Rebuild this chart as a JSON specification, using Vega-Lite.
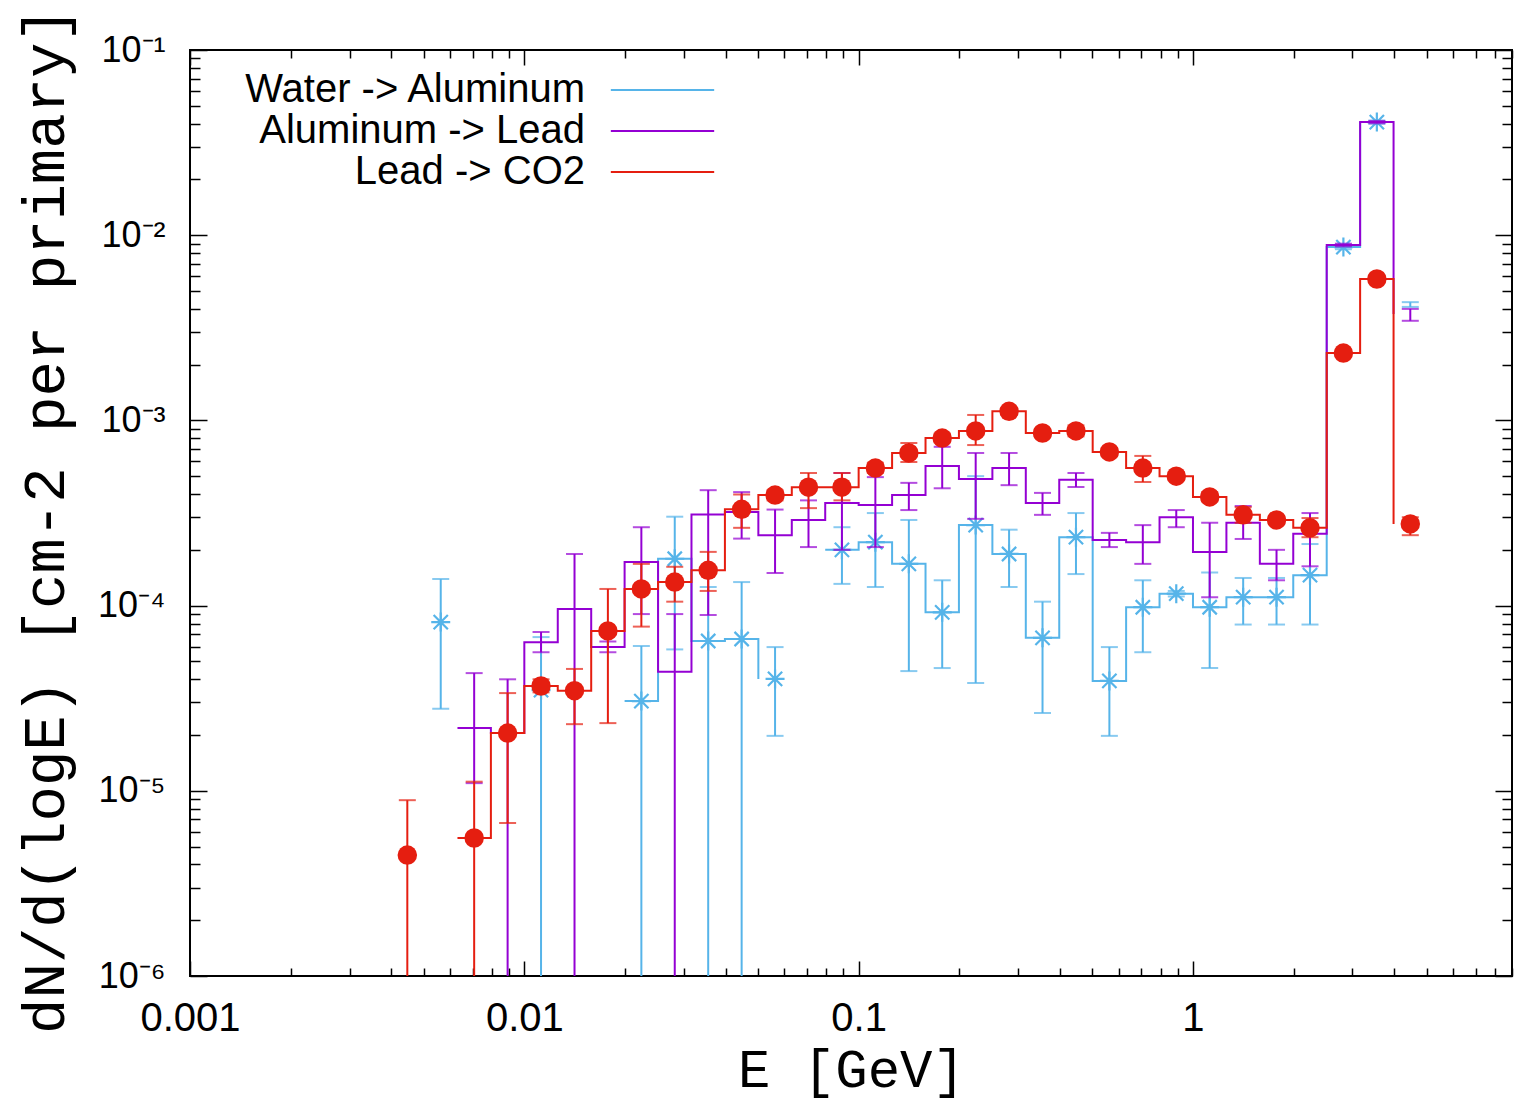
{
  "$schema": "https://vega.github.io/schema/vega-lite/v6.json",
  "width": 1322,
  "height": 926,
  "autosize": {"type": "none"},
  "padding": {"left": 190, "top": 50, "right": 12, "bottom": 126},
  "background": "white",
  "data": {"values": [
    {"s": "Water -> Aluminum", "E": 0.005623, "Elo": 0.005012, "v": 8.15e-5, "lo": 2.77e-5, "hi": 1.39e-4},
    {"s": "Water -> Aluminum", "E": 0.007079, "Elo": 0.00631, "v": null, "lo": null, "hi": null},
    {"s": "Water -> Aluminum", "E": 0.008913, "Elo": 0.007943, "v": null, "lo": null, "hi": null},
    {"s": "Water -> Aluminum", "E": 0.01122, "Elo": 0.01, "v": 3.5e-5, "lo": 1e-7, "hi": 6.76e-5},
    {"s": "Water -> Aluminum", "E": 0.01413, "Elo": 0.01259, "v": null, "lo": null, "hi": null},
    {"s": "Water -> Aluminum", "E": 0.01778, "Elo": 0.01585, "v": null, "lo": null, "hi": null},
    {"s": "Water -> Aluminum", "E": 0.02239, "Elo": 0.01995, "v": 3.05e-5, "lo": 1e-7, "hi": 6.05e-5},
    {"s": "Water -> Aluminum", "E": 0.02818, "Elo": 0.02512, "v": 1.79e-4, "lo": 5.8e-5, "hi": 3.02e-4},
    {"s": "Water -> Aluminum", "E": 0.03548, "Elo": 0.03162, "v": 6.44e-5, "lo": 1e-7, "hi": 1.26e-4},
    {"s": "Water -> Aluminum", "E": 0.04467, "Elo": 0.03981, "v": 6.6e-5, "lo": 1e-7, "hi": 1.34e-4},
    {"s": "Water -> Aluminum", "E": 0.05623, "Elo": 0.05012, "v": 4.02e-5, "lo": 1.98e-5, "hi": 5.97e-5},
    {"s": "Water -> Aluminum", "E": 0.07079, "Elo": 0.0631, "v": null, "lo": null, "hi": null},
    {"s": "Water -> Aluminum", "E": 0.08913, "Elo": 0.07943, "v": 2.0e-4, "lo": 1.31e-4, "hi": 2.65e-4},
    {"s": "Water -> Aluminum", "E": 0.1122, "Elo": 0.1, "v": 2.2e-4, "lo": 1.26e-4, "hi": 3.16e-4},
    {"s": "Water -> Aluminum", "E": 0.1413, "Elo": 0.1259, "v": 1.68e-4, "lo": 4.43e-5, "hi": 2.9e-4},
    {"s": "Water -> Aluminum", "E": 0.1778, "Elo": 0.1585, "v": 9.2e-5, "lo": 4.6e-5, "hi": 1.37e-4},
    {"s": "Water -> Aluminum", "E": 0.2239, "Elo": 0.1995, "v": 2.72e-4, "lo": 3.82e-5, "hi": 5.0e-4},
    {"s": "Water -> Aluminum", "E": 0.2818, "Elo": 0.2512, "v": 1.9e-4, "lo": 1.26e-4, "hi": 2.57e-4},
    {"s": "Water -> Aluminum", "E": 0.3548, "Elo": 0.3162, "v": 6.7e-5, "lo": 2.63e-5, "hi": 1.05e-4},
    {"s": "Water -> Aluminum", "E": 0.4467, "Elo": 0.3981, "v": 2.34e-4, "lo": 1.48e-4, "hi": 3.16e-4},
    {"s": "Water -> Aluminum", "E": 0.5623, "Elo": 0.5012, "v": 3.92e-5, "lo": 1.98e-5, "hi": 5.97e-5},
    {"s": "Water -> Aluminum", "E": 0.7079, "Elo": 0.631, "v": 9.8e-5, "lo": 5.6e-5, "hi": 1.37e-4},
    {"s": "Water -> Aluminum", "E": 0.8913, "Elo": 0.7943, "v": 1.16e-4, "lo": 1.12e-4, "hi": 1.2e-4},
    {"s": "Water -> Aluminum", "E": 1.122, "Elo": 1.0, "v": 9.8e-5, "lo": 4.6e-5, "hi": 1.51e-4},
    {"s": "Water -> Aluminum", "E": 1.413, "Elo": 1.259, "v": 1.11e-4, "lo": 7.9e-5, "hi": 1.41e-4},
    {"s": "Water -> Aluminum", "E": 1.778, "Elo": 1.585, "v": 1.11e-4, "lo": 7.9e-5, "hi": 1.41e-4},
    {"s": "Water -> Aluminum", "E": 2.239, "Elo": 1.995, "v": 1.46e-4, "lo": 7.9e-5, "hi": 2.15e-4},
    {"s": "Water -> Aluminum", "E": 2.818, "Elo": 2.512, "v": 8.63e-3, "lo": 8.4e-3, "hi": 8.9e-3},
    {"s": "Water -> Aluminum", "E": 3.548, "Elo": 3.162, "v": 4.08e-2, "lo": 4.0e-2, "hi": 4.16e-2},
    {"s": "Water -> Aluminum", "E": 4.467, "Elo": 3.981, "v": null, "lo": 4.1e-3, "hi": 4.35e-3},

    {"s": "Aluminum -> Lead", "E": 0.007079, "Elo": 0.00631, "v": 2.18e-5, "lo": 1.1e-5, "hi": 4.32e-5},
    {"s": "Aluminum -> Lead", "E": 0.008913, "Elo": 0.007943, "v": 2.05e-5, "lo": 1e-7, "hi": 4.0e-5},
    {"s": "Aluminum -> Lead", "E": 0.01122, "Elo": 0.01, "v": 6.35e-5, "lo": 5.6e-5, "hi": 7.2e-5},
    {"s": "Aluminum -> Lead", "E": 0.01413, "Elo": 0.01259, "v": 9.6e-5, "lo": 1e-7, "hi": 1.9e-4},
    {"s": "Aluminum -> Lead", "E": 0.01778, "Elo": 0.01585, "v": 5.97e-5, "lo": 5.6e-5, "hi": 6.4e-5},
    {"s": "Aluminum -> Lead", "E": 0.02239, "Elo": 0.01995, "v": 1.72e-4, "lo": 9e-5, "hi": 2.65e-4},
    {"s": "Aluminum -> Lead", "E": 0.02818, "Elo": 0.02512, "v": 4.4e-5, "lo": 1e-7, "hi": 9.0e-5},
    {"s": "Aluminum -> Lead", "E": 0.03548, "Elo": 0.03162, "v": 3.1e-4, "lo": 8.9e-5, "hi": 4.2e-4},
    {"s": "Aluminum -> Lead", "E": 0.04467, "Elo": 0.03981, "v": 3.2e-4, "lo": 2.3e-4, "hi": 4.1e-4},
    {"s": "Aluminum -> Lead", "E": 0.05623, "Elo": 0.05012, "v": 2.4e-4, "lo": 1.5e-4, "hi": 3.3e-4},
    {"s": "Aluminum -> Lead", "E": 0.07079, "Elo": 0.0631, "v": 2.9e-4, "lo": 2.07e-4, "hi": 3.7e-4},
    {"s": "Aluminum -> Lead", "E": 0.08913, "Elo": 0.07943, "v": 3.58e-4, "lo": 2.0e-4, "hi": 5.2e-4},
    {"s": "Aluminum -> Lead", "E": 0.1122, "Elo": 0.1, "v": 3.49e-4, "lo": 2.07e-4, "hi": 4.94e-4},
    {"s": "Aluminum -> Lead", "E": 0.1413, "Elo": 0.1259, "v": 3.95e-4, "lo": 3.28e-4, "hi": 4.6e-4},
    {"s": "Aluminum -> Lead", "E": 0.1778, "Elo": 0.1585, "v": 5.67e-4, "lo": 4.3e-4, "hi": 7.2e-4},
    {"s": "Aluminum -> Lead", "E": 0.2239, "Elo": 0.1995, "v": 4.83e-4, "lo": 2.94e-4, "hi": 6.67e-4},
    {"s": "Aluminum -> Lead", "E": 0.2818, "Elo": 0.2512, "v": 5.53e-4, "lo": 4.47e-4, "hi": 6.67e-4},
    {"s": "Aluminum -> Lead", "E": 0.3548, "Elo": 0.3162, "v": 3.58e-4, "lo": 3.09e-4, "hi": 4.06e-4},
    {"s": "Aluminum -> Lead", "E": 0.4467, "Elo": 0.3981, "v": 4.78e-4, "lo": 4.37e-4, "hi": 5.2e-4},
    {"s": "Aluminum -> Lead", "E": 0.5623, "Elo": 0.5012, "v": 2.26e-4, "lo": 2.07e-4, "hi": 2.47e-4},
    {"s": "Aluminum -> Lead", "E": 0.7079, "Elo": 0.631, "v": 2.2e-4, "lo": 1.68e-4, "hi": 2.72e-4},
    {"s": "Aluminum -> Lead", "E": 0.8913, "Elo": 0.7943, "v": 3.0e-4, "lo": 2.65e-4, "hi": 3.28e-4},
    {"s": "Aluminum -> Lead", "E": 1.122, "Elo": 1.0, "v": 1.95e-4, "lo": 1.11e-4, "hi": 2.8e-4},
    {"s": "Aluminum -> Lead", "E": 1.413, "Elo": 1.259, "v": 2.8e-4, "lo": 2.29e-4, "hi": 3.45e-4},
    {"s": "Aluminum -> Lead", "E": 1.778, "Elo": 1.585, "v": 1.68e-4, "lo": 1.37e-4, "hi": 2.0e-4},
    {"s": "Aluminum -> Lead", "E": 2.239, "Elo": 1.995, "v": 2.44e-4, "lo": 1.63e-4, "hi": 3.16e-4},
    {"s": "Aluminum -> Lead", "E": 2.818, "Elo": 2.512, "v": 8.85e-3, "lo": 8.7e-3, "hi": 9.0e-3},
    {"s": "Aluminum -> Lead", "E": 3.548, "Elo": 3.162, "v": 4.08e-2, "lo": 4.02e-2, "hi": 4.14e-2},
    {"s": "Aluminum -> Lead", "E": 4.467, "Elo": 3.981, "v": 3.75e-3, "lo": 3.45e-3, "hi": 4.0e-3},

    {"s": "Lead -> CO2", "E": 0.004467, "Elo": 0.003981, "v": 4.5e-6, "lo": 1e-7, "hi": 8.9e-6},
    {"s": "Lead -> CO2", "E": 0.005623, "Elo": 0.005012, "v": null, "lo": null, "hi": null},
    {"s": "Lead -> CO2", "E": 0.007079, "Elo": 0.00631, "v": 5.56e-6, "lo": 1e-7, "hi": 1.12e-5},
    {"s": "Lead -> CO2", "E": 0.008913, "Elo": 0.007943, "v": 2.05e-5, "lo": 6.7e-6, "hi": 3.37e-5},
    {"s": "Lead -> CO2", "E": 0.01122, "Elo": 0.01, "v": 3.68e-5, "lo": 3.4e-5, "hi": 4.0e-5},
    {"s": "Lead -> CO2", "E": 0.01413, "Elo": 0.01259, "v": 3.47e-5, "lo": 2.29e-5, "hi": 4.55e-5},
    {"s": "Lead -> CO2", "E": 0.01778, "Elo": 0.01585, "v": 7.3e-5, "lo": 2.32e-5, "hi": 1.23e-4},
    {"s": "Lead -> CO2", "E": 0.02239, "Elo": 0.01995, "v": 1.23e-4, "lo": 7.7e-5, "hi": 1.68e-4},
    {"s": "Lead -> CO2", "E": 0.02818, "Elo": 0.02512, "v": 1.34e-4, "lo": 1.05e-4, "hi": 1.62e-4},
    {"s": "Lead -> CO2", "E": 0.03548, "Elo": 0.03162, "v": 1.55e-4, "lo": 1.2e-4, "hi": 1.95e-4},
    {"s": "Lead -> CO2", "E": 0.04467, "Elo": 0.03981, "v": 3.31e-4, "lo": 2.63e-4, "hi": 3.98e-4},
    {"s": "Lead -> CO2", "E": 0.05623, "Elo": 0.05012, "v": 3.95e-4, "lo": 3.7e-4, "hi": 4.2e-4},
    {"s": "Lead -> CO2", "E": 0.07079, "Elo": 0.0631, "v": 4.36e-4, "lo": 3.36e-4, "hi": 5.2e-4},
    {"s": "Lead -> CO2", "E": 0.08913, "Elo": 0.07943, "v": 4.36e-4, "lo": 3.7e-4, "hi": 5.2e-4},
    {"s": "Lead -> CO2", "E": 0.1122, "Elo": 0.1, "v": 5.53e-4, "lo": 5.2e-4, "hi": 5.9e-4},
    {"s": "Lead -> CO2", "E": 0.1413, "Elo": 0.1259, "v": 6.67e-4, "lo": 5.96e-4, "hi": 7.55e-4},
    {"s": "Lead -> CO2", "E": 0.1778, "Elo": 0.1585, "v": 8.03e-4, "lo": 7.6e-4, "hi": 8.5e-4},
    {"s": "Lead -> CO2", "E": 0.2239, "Elo": 0.1995, "v": 8.77e-4, "lo": 7.36e-4, "hi": 1.07e-3},
    {"s": "Lead -> CO2", "E": 0.2818, "Elo": 0.2512, "v": 1.12e-3, "lo": 1.07e-3, "hi": 1.17e-3},
    {"s": "Lead -> CO2", "E": 0.3548, "Elo": 0.3162, "v": 8.55e-4, "lo": 8.1e-4, "hi": 9.0e-4},
    {"s": "Lead -> CO2", "E": 0.4467, "Elo": 0.3981, "v": 8.77e-4, "lo": 8.2e-4, "hi": 9.4e-4},
    {"s": "Lead -> CO2", "E": 0.5623, "Elo": 0.5012, "v": 6.76e-4, "lo": 6.4e-4, "hi": 7.1e-4},
    {"s": "Lead -> CO2", "E": 0.7079, "Elo": 0.631, "v": 5.53e-4, "lo": 4.65e-4, "hi": 6.43e-4},
    {"s": "Lead -> CO2", "E": 0.8913, "Elo": 0.7943, "v": 5.0e-4, "lo": 4.75e-4, "hi": 5.25e-4},
    {"s": "Lead -> CO2", "E": 1.122, "Elo": 1.0, "v": 3.86e-4, "lo": 3.65e-4, "hi": 4.1e-4},
    {"s": "Lead -> CO2", "E": 1.413, "Elo": 1.259, "v": 3.09e-4, "lo": 2.8e-4, "hi": 3.4e-4},
    {"s": "Lead -> CO2", "E": 1.778, "Elo": 1.585, "v": 2.9e-4, "lo": 2.75e-4, "hi": 3.05e-4},
    {"s": "Lead -> CO2", "E": 2.239, "Elo": 1.995, "v": 2.63e-4, "lo": 2.34e-4, "hi": 2.97e-4},
    {"s": "Lead -> CO2", "E": 2.818, "Elo": 2.512, "v": 2.31e-3, "lo": 2.25e-3, "hi": 2.37e-3},
    {"s": "Lead -> CO2", "E": 3.548, "Elo": 3.162, "v": 5.8e-3, "lo": 5.65e-3, "hi": 5.95e-3},
    {"s": "Lead -> CO2", "E": 4.467, "Elo": 3.981, "v": 2.76e-4, "lo": 2.4e-4, "hi": 3.0e-4}
  ]},
  "resolve": {"axis": {"x": "independent", "y": "independent"}},
  "layer": [
    {
      "transform": [{"filter": "datum.s === 'Water -> Aluminum'"}],
      "mark": {"type": "line", "interpolate": "step-after", "strokeWidth": 2, "clip": true, "invalid": "break-paths-filter-domains"},
      "encoding": {
        "x": {"field": "Elo", "type": "quantitative", "scale": {"type": "log", "domain": [0.001, 9], "nice": false},
          "axis": {"orient": "bottom", "values": [0.001,0.002,0.003,0.004,0.005,0.006,0.007,0.008,0.009,0.01,0.02,0.03,0.04,0.05,0.06,0.07,0.08,0.09,0.1,0.2,0.3,0.4,0.5,0.6,0.7,0.8,0.9,1,2,3,4,5,6,7,8,9],
            "title": "E  [GeV]", "titleFont": "Liberation Mono", "titleFontSize": 54, "titleFontWeight": "normal", "titleColor": "black",
            "titleX": 661, "titleY": 110, "titleBaseline": "alphabetic", "titleAlign": "center",
            "labelExpr": "abs(log(datum.value)/LN10 - round(log(datum.value)/LN10)) < 0.01 ? format(datum.value, '~g') : ''",
            "labelFont": "Liberation Sans", "labelFontSize": 40, "labelColor": "black", "labelPadding": 37, "labelFlush": false, "labelOverlap": false,
            "tickSize": {"condition": {"test": "abs(log(datum.value)/LN10 - round(log(datum.value)/LN10)) < 0.01", "value": -15}, "value": -8},
            "tickColor": "black", "tickWidth": 1.5, "domain": false, "grid": false}},
        "y": {"field": "v", "type": "quantitative", "scale": {"type": "log", "domain": [1e-6, 0.1], "nice": false},
          "axis": {"orient": "left", "values": [1e-6,2e-6,3e-6,4e-6,5e-6,6e-6,7e-6,8e-6,9e-6,1e-5,2e-5,3e-5,4e-5,5e-5,6e-5,7e-5,8e-5,9e-5,1e-4,2e-4,3e-4,4e-4,5e-4,6e-4,7e-4,8e-4,9e-4,1e-3,2e-3,3e-3,4e-3,5e-3,6e-3,7e-3,8e-3,9e-3,0.01,0.02,0.03,0.04,0.05,0.06,0.07,0.08,0.09,0.1],
            "title": "dN/d(logE)  [cm-2 per primary]", "titleFont": "Liberation Mono", "titleFontSize": 59, "titleFontWeight": "normal", "titleColor": "black",
            "titleX": -145, "titleY": 470, "titleBaseline": "middle", "titleAlign": "center", "titleAngle": -90,
            "labelExpr": "abs(log(datum.value)/LN10 - round(log(datum.value)/LN10)) < 0.01 ? '10⁻' + substring('⁰¹²³⁴⁵⁶⁷⁸⁹', -round(log(datum.value)/LN10), -round(log(datum.value)/LN10) + 1) : ''",
            "labelFont": "Liberation Sans", "labelFontSize": 36, "labelColor": "black", "labelPadding": 42, "labelOverlap": false, "labelFlush": false,
            "tickSize": {"condition": {"test": "abs(log(datum.value)/LN10 - round(log(datum.value)/LN10)) < 0.01", "value": -17}, "value": -10},
            "tickColor": "black", "tickWidth": 1.5, "domain": false, "grid": false}},
        "color": {"field": "s", "type": "nominal",
          "scale": {"domain": ["Water -> Aluminum", "Aluminum -> Lead", "Lead -> CO2"], "range": ["#56b4e9", "#9400d3", "#e51e10"]},
          "legend": {"orient": "none", "legendX": 452, "legendY": 19.5, "title": null,
            "symbolType": "M-2.65,0L2.65,0", "symbolSize": 1521, "symbolStrokeWidth": 2,
            "labelAlign": "right", "labelOffset": -98, "labelFont": "Liberation Sans", "labelFontSize": 40, "labelColor": "black", "labelLimit": 0,
            "rowPadding": -4, "padding": 0, "labelBaseline": "middle"}}
      }
    },
    {
      "transform": [{"filter": "datum.s === 'Water -> Aluminum' && isValid(datum.lo)"}],
      "mark": {"type": "rule", "color": "#56b4e9", "strokeWidth": 2, "clip": true},
      "encoding": {
        "x": {"field": "E", "type": "quantitative", "axis": null},
        "y": {"field": "lo", "type": "quantitative", "axis": null},
        "y2": {"field": "hi"}
      }
    },
    {
      "transform": [{"filter": "datum.s === 'Water -> Aluminum' && isValid(datum.lo)"}],
      "mark": {"type": "tick", "orient": "horizontal", "color": "#56b4e9", "size": 17, "thickness": 2, "clip": true},
      "encoding": {
        "x": {"field": "E", "type": "quantitative", "axis": null},
        "y": {"field": "lo", "type": "quantitative", "axis": null}
      }
    },
    {
      "transform": [{"filter": "datum.s === 'Water -> Aluminum' && isValid(datum.hi)"}],
      "mark": {"type": "tick", "orient": "horizontal", "color": "#56b4e9", "size": 17, "thickness": 2, "clip": true},
      "encoding": {
        "x": {"field": "E", "type": "quantitative", "axis": null},
        "y": {"field": "hi", "type": "quantitative", "axis": null}
      }
    },
    {
      "transform": [{"filter": "datum.s === 'Water -> Aluminum' && isValid(datum.v)"}],
      "mark": {"type": "point", "shape": "M-1,0L1,0M0,-1L0,1M-0.75,-0.75L0.75,0.75M-0.75,0.75L0.75,-0.75", "filled": false, "stroke": "#56b4e9", "strokeWidth": 2.2, "size": 361, "opacity": 1, "clip": true},
      "encoding": {
        "x": {"field": "E", "type": "quantitative", "axis": null},
        "y": {"field": "v", "type": "quantitative", "axis": null}
      }
    },
    {
      "transform": [{"filter": "datum.s === 'Aluminum -> Lead'"}],
      "mark": {"type": "line", "interpolate": "step-after", "strokeWidth": 2, "clip": true, "invalid": "break-paths-filter-domains"},
      "encoding": {
        "x": {"field": "Elo", "type": "quantitative",
          "axis": {"orient": "top", "values": [0.001,0.002,0.003,0.004,0.005,0.006,0.007,0.008,0.009,0.01,0.02,0.03,0.04,0.05,0.06,0.07,0.08,0.09,0.1,0.2,0.3,0.4,0.5,0.6,0.7,0.8,0.9,1,2,3,4,5,6,7,8,9],
            "title": null, "labels": false,
            "tickSize": {"condition": {"test": "abs(log(datum.value)/LN10 - round(log(datum.value)/LN10)) < 0.01", "value": -15}, "value": -8},
            "tickColor": "black", "tickWidth": 1.5, "domain": false, "grid": false}},
        "y": {"field": "v", "type": "quantitative",
          "axis": {"orient": "right", "values": [1e-6,2e-6,3e-6,4e-6,5e-6,6e-6,7e-6,8e-6,9e-6,1e-5,2e-5,3e-5,4e-5,5e-5,6e-5,7e-5,8e-5,9e-5,1e-4,2e-4,3e-4,4e-4,5e-4,6e-4,7e-4,8e-4,9e-4,1e-3,2e-3,3e-3,4e-3,5e-3,6e-3,7e-3,8e-3,9e-3,0.01,0.02,0.03,0.04,0.05,0.06,0.07,0.08,0.09,0.1],
            "title": null, "labels": false,
            "tickSize": {"condition": {"test": "abs(log(datum.value)/LN10 - round(log(datum.value)/LN10)) < 0.01", "value": -17}, "value": -10},
            "tickColor": "black", "tickWidth": 1.5, "domain": false, "grid": false}},
        "color": {"field": "s", "type": "nominal"}
      }
    },
    {
      "transform": [{"filter": "datum.s === 'Aluminum -> Lead' && isValid(datum.lo)"}],
      "mark": {"type": "rule", "color": "#9400d3", "strokeWidth": 2, "clip": true},
      "encoding": {
        "x": {"field": "E", "type": "quantitative", "axis": null},
        "y": {"field": "lo", "type": "quantitative", "axis": null},
        "y2": {"field": "hi"}
      }
    },
    {
      "transform": [{"filter": "datum.s === 'Aluminum -> Lead' && isValid(datum.lo)"}],
      "mark": {"type": "tick", "orient": "horizontal", "color": "#9400d3", "size": 17, "thickness": 2, "clip": true},
      "encoding": {
        "x": {"field": "E", "type": "quantitative", "axis": null},
        "y": {"field": "lo", "type": "quantitative", "axis": null}
      }
    },
    {
      "transform": [{"filter": "datum.s === 'Aluminum -> Lead' && isValid(datum.hi)"}],
      "mark": {"type": "tick", "orient": "horizontal", "color": "#9400d3", "size": 17, "thickness": 2, "clip": true},
      "encoding": {
        "x": {"field": "E", "type": "quantitative", "axis": null},
        "y": {"field": "hi", "type": "quantitative", "axis": null}
      }
    },
    {
      "transform": [{"filter": "datum.s === 'Lead -> CO2'"}],
      "mark": {"type": "line", "interpolate": "step-after", "strokeWidth": 2, "clip": true, "invalid": "break-paths-filter-domains"},
      "encoding": {
        "x": {"field": "Elo", "type": "quantitative", "axis": null},
        "y": {"field": "v", "type": "quantitative", "axis": null},
        "color": {"field": "s", "type": "nominal"}
      }
    },
    {
      "transform": [{"filter": "datum.s === 'Lead -> CO2' && isValid(datum.lo)"}],
      "mark": {"type": "rule", "color": "#e51e10", "strokeWidth": 2, "clip": true},
      "encoding": {
        "x": {"field": "E", "type": "quantitative", "axis": null},
        "y": {"field": "lo", "type": "quantitative", "axis": null},
        "y2": {"field": "hi"}
      }
    },
    {
      "transform": [{"filter": "datum.s === 'Lead -> CO2' && isValid(datum.lo)"}],
      "mark": {"type": "tick", "orient": "horizontal", "color": "#e51e10", "size": 17, "thickness": 2, "clip": true},
      "encoding": {
        "x": {"field": "E", "type": "quantitative", "axis": null},
        "y": {"field": "lo", "type": "quantitative", "axis": null}
      }
    },
    {
      "transform": [{"filter": "datum.s === 'Lead -> CO2' && isValid(datum.hi)"}],
      "mark": {"type": "tick", "orient": "horizontal", "color": "#e51e10", "size": 17, "thickness": 2, "clip": true},
      "encoding": {
        "x": {"field": "E", "type": "quantitative", "axis": null},
        "y": {"field": "hi", "type": "quantitative", "axis": null}
      }
    },
    {
      "transform": [{"filter": "datum.s === 'Lead -> CO2' && isValid(datum.v)"}],
      "mark": {"type": "point", "shape": "circle", "filled": true, "color": "#e51e10", "size": 380, "opacity": 1, "clip": true},
      "encoding": {
        "x": {"field": "E", "type": "quantitative", "axis": null},
        "y": {"field": "v", "type": "quantitative", "axis": null}
      }
    }
  ],
  "config": {
    "view": {"stroke": "black", "strokeWidth": 2},
    "font": "Liberation Sans"
  }
}
